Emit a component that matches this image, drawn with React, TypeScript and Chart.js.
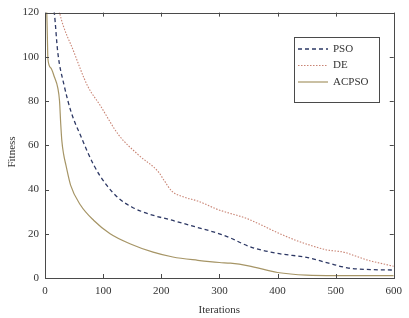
import React, { useEffect, useRef } from "react";
import { Chart, registerables } from "chart.js";

Chart.register(...registerables);

const X_TICKS = [0, 100, 200, 300, 400, 500, 600];
const Y_TICKS = [0, 20, 40, 60, 80, 100, 120];

const SERIES_NAMES = ["PSO", "DE", "ACPSO"];

const PSO_X = [10, 16, 22, 33, 45, 61, 84, 106, 127, 150, 178, 220, 263, 300, 320, 340, 360, 403, 450, 488, 522, 560, 600];
const PSO_Y = [130, 120, 102, 87, 75, 64.5, 51, 42, 36, 32, 29, 26, 22.8, 20, 18, 15.5, 13.5, 11, 9.3, 6.7, 4.5, 3.8, 3.6];

const DE_X = [18, 25, 50, 73, 95, 127, 161, 195, 206, 218, 240, 263, 297, 348, 376, 400, 432, 460, 483, 517, 530, 556, 580, 600];
const DE_Y = [130, 120, 102, 87, 78, 64.6, 55.6, 48, 43.7, 39.3, 36.5, 34.8, 31, 26.8, 23.5, 20.5, 17, 14.5, 12.8, 11.5, 10.3, 8, 6.5, 5.3];

const ACPSO_X = [0, 3, 4, 5, 10, 16, 22, 25, 27, 29, 32, 36, 44, 61, 84, 112, 146, 186, 220, 263, 300, 319, 350, 400, 450, 500, 600];
const ACPSO_Y = [125, 120, 110, 99, 95, 91, 86, 80, 70, 62, 56, 51, 42, 33, 26, 20, 15.5, 11.7, 9.5, 8, 7, 6.7, 5.5, 2.5, 1.3, 1.1, 1.1];

const COLORS = ["#2d3864", "#c98474", "#a69566"];
const DASHES = [[4, 3], [1.5, 1.5], []];
const WIDTHS = [1.3, 1.1, 1.2];

const FONT = "'Liberation Serif', 'Times New Roman', Times, serif";

function pts(xs: number[], ys: number[]) {
  return xs.map((x, i) => ({ x, y: ys[i] }));
}

const framePlugin = {
  id: "frame",
  beforeDraw(chart: any) {
    const { ctx, width, height } = chart;
    ctx.save();
    ctx.fillStyle = "#ffffff";
    ctx.fillRect(0, 0, width, height);
    ctx.restore();
  },
  afterDraw(chart: any) {
    const { ctx, chartArea } = chart;
    const { left, right, top, bottom } = chartArea;
    const xs = chart.scales.x;
    const ys = chart.scales.y;
    ctx.save();
    ctx.strokeStyle = "#4a4a4a";
    ctx.lineWidth = 1;
    ctx.setLineDash([]);
    ctx.strokeRect(Math.round(left) + 0.5, Math.round(top) + 0.5, Math.round(right - left), Math.round(bottom - top));
    const tl = 4;
    ctx.beginPath();
    X_TICKS.forEach((v) => {
      const px = Math.round(xs.getPixelForValue(v)) + 0.5;
      ctx.moveTo(px, bottom);
      ctx.lineTo(px, bottom - tl);
      ctx.moveTo(px, top);
      ctx.lineTo(px, top + tl);
    });
    Y_TICKS.forEach((v) => {
      const py = Math.round(ys.getPixelForValue(v)) + 0.5;
      ctx.moveTo(left, py);
      ctx.lineTo(left + tl, py);
      ctx.moveTo(right, py);
      ctx.lineTo(right - tl, py);
    });
    ctx.stroke();

    ctx.fillStyle = "#333333";
    ctx.font = `11px ${FONT}`;
    ctx.textAlign = "center";
    ctx.textBaseline = "middle";
    ctx.fillText("Iterations", (left + right) / 2, 310);
    ctx.save();
    ctx.translate(12, 152);
    ctx.rotate(-Math.PI / 2);
    ctx.fillText("Fitness", 0, 0);
    ctx.restore();

    const bx = 294.5, by = 37.5, bw = 85, bh = 65;
    ctx.fillStyle = "#ffffff";
    ctx.fillRect(bx, by, bw, bh);
    ctx.strokeStyle = "#4a4a4a";
    ctx.strokeRect(bx, by, bw, bh);
    const rows = [49, 65.5, 82];
    SERIES_NAMES.forEach((name, i) => {
      ctx.strokeStyle = COLORS[i];
      ctx.lineWidth = WIDTHS[i];
      ctx.setLineDash(DASHES[i]);
      ctx.beginPath();
      ctx.moveTo(298, rows[i]);
      ctx.lineTo(328, rows[i]);
      ctx.stroke();
      ctx.setLineDash([]);
      ctx.fillStyle = "#333333";
      ctx.textAlign = "left";
      ctx.fillText(name, 333, rows[i]);
    });
    ctx.restore();
  },
};

export default function App() {
  const ref = useRef<HTMLCanvasElement | null>(null);
  useEffect(() => {
    let chart: any = null;
    let cancelled = false;
    const make = () => {
      if (cancelled || !ref.current) return;
      const data = [pts(PSO_X, PSO_Y), pts(DE_X, DE_Y), pts(ACPSO_X, ACPSO_Y)];
      chart = new Chart(ref.current, {
        type: "line",
        data: {
          datasets: SERIES_NAMES.map((name, i) => ({
            label: name,
            data: data[i],
            borderColor: COLORS[i],
            borderWidth: WIDTHS[i],
            borderDash: DASHES[i],
            pointRadius: 0,
            fill: false,
            cubicInterpolationMode: "monotone" as const,
          })),
        },
        options: {
          responsive: false,
          animation: false,
          layout: { padding: { top: 9, right: 10, left: 0, bottom: 0 } },
          plugins: { legend: { display: false }, tooltip: { enabled: false } },
          scales: {
            x: {
              type: "linear",
              min: 0,
              max: 600,
              afterFit: (s: any) => { s.height = 40; },
              grid: { display: false, drawTicks: false },
              border: { display: false },
              ticks: {
                stepSize: 100,
                padding: 7,
                color: "#333333",
                font: { family: FONT, size: 11 },
                maxRotation: 0,
              },
            },
            y: {
              type: "linear",
              min: 0,
              max: 120,
              afterFit: (s: any) => { s.width = 45; },
              grid: { display: false, drawTicks: false },
              border: { display: false },
              ticks: {
                stepSize: 20,
                padding: 6,
                color: "#333333",
                font: { family: FONT, size: 11 },
              },
            },
          },
        },
        plugins: [framePlugin],
      } as any);
    };
    const fonts: any = (document as any).fonts;
    if (fonts && fonts.load) {
      fonts.load("11px 'Liberation Serif'").then(make, make);
    } else {
      make();
    }
    return () => {
      cancelled = true;
      if (chart) chart.destroy();
    };
  }, []);
  return (
    <div style={{ position: "absolute", left: 0, top: 0, width: 409, height: 318 }}>
      <canvas ref={ref} width={409} height={318} />
    </div>
  );
}
